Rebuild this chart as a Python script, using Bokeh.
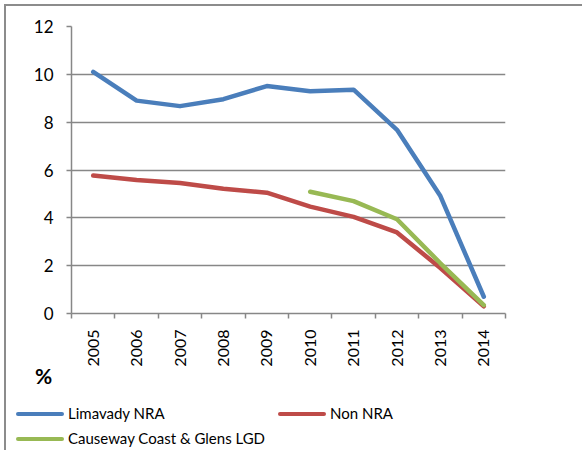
from bokeh.plotting import figure
from bokeh.models import Range1d, FixedTicker, ColumnDataSource, Div
from bokeh.layouts import column
from bokeh.embed import file_html
from bokeh.resources import INLINE
import math

years = ["2005", "2006", "2007", "2008", "2009", "2010", "2011", "2012", "2013", "2014"]
limavady = [10.1, 8.9, 8.67, 8.96, 9.51, 9.29, 9.36, 7.68, 4.91, 0.7]
non_nra = [5.77, 5.58, 5.46, 5.22, 5.05, 4.47, 4.04, 3.39, 1.9, 0.3]
causeway_years = ["2010", "2011", "2012", "2013", "2014"]
causeway = [5.09, 4.7, 3.94, 2.1, 0.35]
y_ticks = [0, 2, 4, 6, 8, 10, 12]
series_names = ["Limavady NRA", "Non NRA", "Causeway Coast & Glens LGD"]
series_colors = ["#4A7EBB", "#BE4B48", "#98B954"]
unit_label = "%"

FONT = "Lato"
GRID = "#878787"
W = 576
H1 = 363
H2 = 81

xpos = {y: i + 0.5 for i, y in enumerate(years)}

p = figure(width=W, height=H1, output_backend="svg", toolbar_location=None,
           x_range=Range1d(0, len(years)), y_range=Range1d(0, 12),
           min_border_left=65, min_border_top=20, min_border_right=77, min_border_bottom=54)
p.outline_line_color = None
p.background_fill_color = "white"
p.border_fill_color = "white"

# x axis: labels at category centres, tick marks at category boundaries
p.xaxis.ticker = FixedTicker(ticks=[xpos[y] for y in years], minor_ticks=list(range(len(years) + 1)))
p.xaxis.major_label_overrides = {xpos[y]: y for y in years}
p.xaxis.major_label_orientation = math.pi / 2
p.xaxis.major_tick_out = 0
p.xaxis.major_tick_in = 0
p.xaxis.minor_tick_out = 5
p.xaxis.minor_tick_in = 0
p.xaxis.minor_tick_line_color = GRID
p.xaxis.minor_tick_line_width = 1.5
p.xaxis.axis_line_color = GRID
p.xaxis.axis_line_width = 1.5
p.xaxis.major_label_standoff = 11
p.xaxis.major_label_text_font = FONT
p.xaxis.major_label_text_font_size = "16px"
p.xaxis.major_label_text_color = "black"

p.yaxis.ticker = FixedTicker(ticks=y_ticks)
p.yaxis.major_tick_out = 5
p.yaxis.major_tick_in = 0
p.yaxis.minor_tick_line_color = None
p.yaxis.major_tick_line_color = GRID
p.yaxis.major_tick_line_width = 1.5
p.yaxis.axis_line_color = GRID
p.yaxis.axis_line_width = 1.5
p.yaxis.major_label_standoff = 13
p.yaxis.major_label_text_font = FONT
p.yaxis.major_label_text_font_size = "17px"
p.yaxis.major_label_text_color = "black"

p.xgrid.grid_line_color = None
p.ygrid.ticker = FixedTicker(ticks=y_ticks)
p.ygrid.grid_line_color = GRID
p.ygrid.grid_line_width = 1.5

src1 = ColumnDataSource(dict(x=[xpos[y] for y in years], y=limavady))
src2 = ColumnDataSource(dict(x=[xpos[y] for y in years], y=non_nra))
src3 = ColumnDataSource(dict(x=[xpos[y] for y in causeway_years], y=causeway))
for src, col in zip([src1, src2, src3], series_colors):
    p.line("x", "y", source=src, line_color=col, line_width=4.5, line_cap="round", line_join="round")

# lower strip: unit label and legend (HTML text)
legend_slots = [(10, 45), (272, 45), (10, 70)]  # (left, row centre) in px within the strip
parts = [f'<div style="position:absolute;left:29px;top:-4px;font:bold 21px {FONT};line-height:21px;color:black;">{unit_label}</div>']
for (lx, cy), name, col in zip(legend_slots, series_names, series_colors):
    parts.append(f'<div style="position:absolute;left:{lx}px;top:{cy - 2}px;width:48px;height:4px;'
                 f'border-radius:2px;background:{col};"></div>')
    parts.append(f'<div style="position:absolute;left:{lx + 52}px;top:{cy - 9}px;font:15px {FONT};'
                 f'line-height:17px;color:black;white-space:nowrap;">{name}</div>')
html = f'<div style="position:relative;width:{W}px;height:{H2}px;">' + "".join(parts) + '</div>'
strip = Div(text=html, width=W, height=H2, margin=0)

layout = column(p, strip, spacing=0)
layout.styles = {"border-top": "2px solid #8c8c8c", "border-left": "2px solid #8c8c8c",
                 "margin-left": "4px", "margin-top": "4px"}

open("out.html", "w").write(file_html(layout, INLINE))
